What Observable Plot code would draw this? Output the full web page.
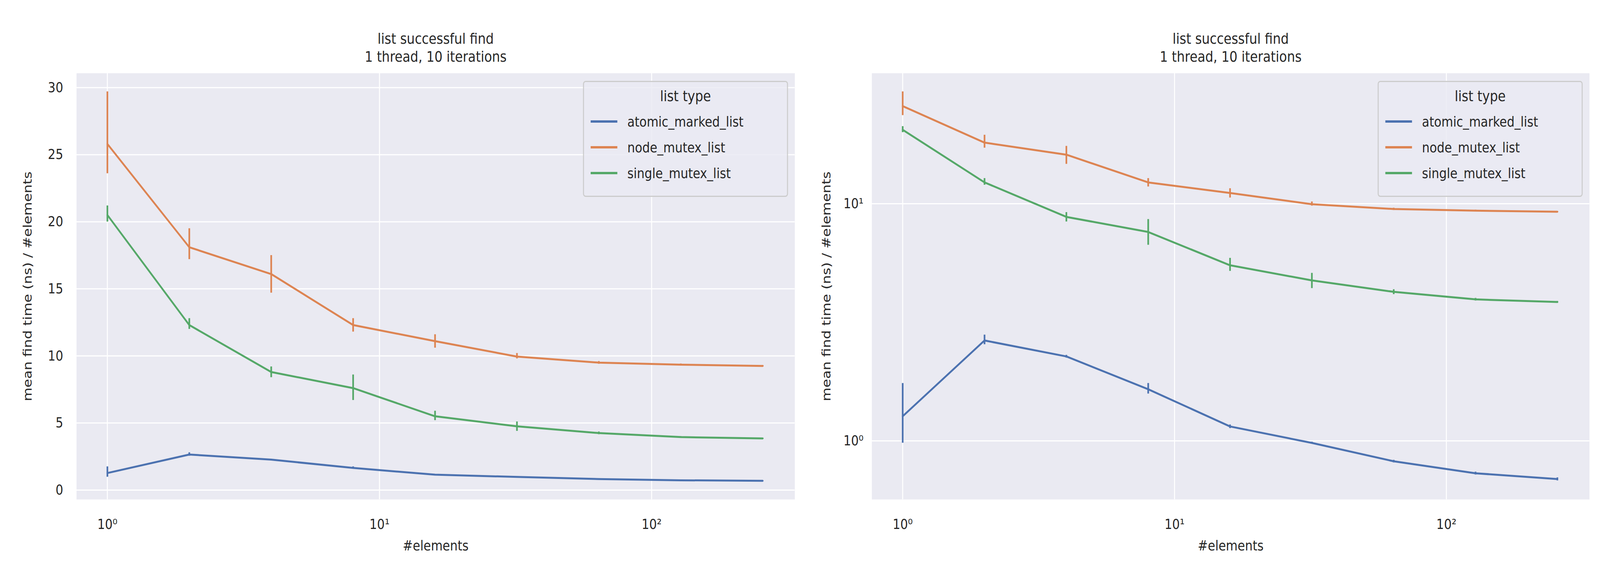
<!DOCTYPE html>
<html><head><meta charset="utf-8">
<script src="https://cdn.jsdelivr.net/npm/d3@7"></script>
<script src="https://cdn.jsdelivr.net/npm/@observablehq/plot@0.6"></script>
<style>
html,body{margin:0;padding:0;background:#fff;font-family:"DejaVu Sans",sans-serif;overflow:hidden}
#wrap{display:flex;width:4800px;height:1500px;transform-origin:0 0}
.panel{position:relative;width:2400px;height:1500px;flex:0 0 2400px}
.panel svg{max-width:none!important}
.legend{position:absolute;background:rgba(234,234,242,0.8);border:3px solid #cccccc;border-radius:8px;font-size:36px;color:#262626;padding:14px 20px;box-sizing:border-box}
.legend .t{text-align:center;font-size:38px;margin-bottom:10px}
.legend .r{display:flex;align-items:center;height:66px}
.legend .s{width:80px;height:6px;margin-right:30px}
</style></head><body>
<div id="wrap"></div>
<script>
const elements = [1,2,4,8,16,32,64,128,256];
const seriesNames = ["atomic_marked_list","node_mutex_list","single_mutex_list"];
const colors = ["#4c72b0","#dd8452","#55a868"];
const atomicMean = [1.27,2.65,2.27,1.65,1.15,0.98,0.82,0.73,0.69];
const atomicLo   = [0.98,2.55,2.24,1.58,1.13,0.97,0.81,0.72,0.68];
const atomicHi   = [1.75,2.80,2.30,1.75,1.17,0.99,0.83,0.74,0.70];
const nodeMean = [25.8,18.1,16.1,12.3,11.1,9.95,9.5,9.35,9.25];
const nodeLo   = [23.6,17.2,14.7,11.8,10.6,9.8,9.4,9.28,9.2];
const nodeHi   = [29.7,19.5,17.5,12.8,11.6,10.2,9.6,9.42,9.3];
const singleMean = [20.5,12.3,8.8,7.6,5.5,4.75,4.25,3.95,3.85];
const singleLo   = [20.0,12.0,8.4,6.7,5.2,4.4,4.15,3.9,3.82];
const singleHi   = [21.2,12.8,9.2,8.6,5.9,5.1,4.35,4.0,3.88];

const means=[atomicMean,nodeMean,singleMean], los=[atomicLo,nodeLo,singleLo], his=[atomicHi,nodeHi,singleHi];
const rows=[];
seriesNames.forEach((s,i)=>elements.forEach((x,j)=>rows.push({s,x,y:means[i][j],lo:los[i][j],hi:his[i][j]})));
const sup={"0":"⁰","1":"¹","2":"²","3":"³","-":"⁻"};
const pow=d=>"10"+String(Math.round(Math.log10(d))).split("").map(c=>sup[c]).join("");

function panel(logY){
  const ml = logY?215:229, mr = logY?32:16, mt=187, mb=222;
  const yopt = logY
    ? {type:"log",domain:[0.566,35.5]}
    : {type:"linear",domain:[-0.7,31.07]};
  const yt = logY?[1,10]:[0,5,10,15,20,25,30];
  const p = Plot.plot({
    width:2400,height:1500,marginLeft:ml,marginRight:mr,marginTop:mt,marginBottom:mb,
    style:{fontFamily:"DejaVu Sans",fontSize:"36px",color:"#262626",background:"#fff"},
    x:{type:"log",domain:[0.77,336]},
    y:yopt,
    color:{domain:seriesNames,range:colors},
    marks:[
      Plot.frame({fill:"#eaeaf2",stroke:null}),
      Plot.gridX({ticks:[1,10,100],stroke:"#fff",strokeOpacity:1,strokeWidth:3}),
      Plot.gridY({ticks:yt,stroke:"#fff",strokeOpacity:1,strokeWidth:3}),
      Plot.line(rows,{x:"x",y:"y",z:"s",stroke:"s",strokeWidth:5}),
      Plot.ruleX(rows,{x:"x",y1:"lo",y2:"hi",stroke:"s",strokeWidth:5}),
      Plot.text(["list successful find\n1 thread, 10 iterations"],{frameAnchor:"top",dy:-30,lineAnchor:"bottom",fontSize:38,fill:"#262626",lineHeight:1.2}),
      Plot.axisX({ticks:[1,10,100],tickFormat:pow,tickSize:0,tickPadding:50,fontSize:36,label:"#elements",labelAnchor:"center",labelArrow:"none",labelOffset:130}),
      Plot.axisY({ticks:yt,tickFormat:logY?pow:undefined,tickSize:0,tickPadding:logY?25:40,fontSize:36,label:"mean find time (ns) / #elements",labelAnchor:"center",labelArrow:"none",labelOffset:logY?150:160})
    ]
  });
  const d=document.createElement("div");d.className="panel";d.appendChild(p);
  const lg=document.createElement("div");lg.className="legend";
  lg.style.cssText=`right:${mr+20}px;top:207px;width:615px;height:297px`;
  lg.innerHTML=`<div class="t">list type</div>`+seriesNames.map((s,i)=>`<div class="r"><div class="s" style="background:${colors[i]}"></div>${s}</div>`).join("");
  d.appendChild(lg);
  return d;
}
const w=document.getElementById("wrap");
w.appendChild(panel(false));
w.appendChild(panel(true));
function fit(){
  const sx=(document.documentElement.clientWidth||window.innerWidth)/4800;
  const sy=(document.documentElement.clientHeight||window.innerHeight)/1500;
  if(Math.abs(sx-1)>0.01||Math.abs(sy-1)>0.01) w.style.transform=`scale(${sx},${sy})`;
  else w.style.transform="";
}
fit();window.addEventListener("resize",fit);
</script></body></html>
